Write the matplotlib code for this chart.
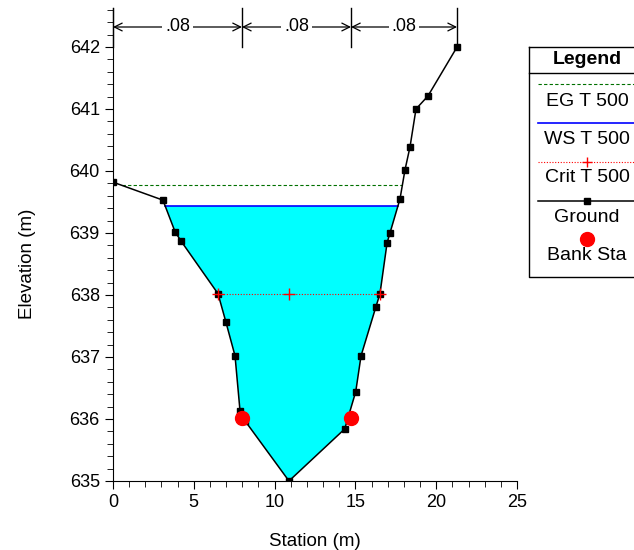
import matplotlib
matplotlib.use("Agg")
import matplotlib.pyplot as plt
import numpy as np

plt.rcParams['font.family'] = ['Liberation Sans', 'DejaVu Sans']

# Ground profile
ground_x = [0.0, 3.09, 3.84, 4.21, 6.50, 6.99, 7.55, 7.86, 8.17, 10.89,
            14.34, 15.02, 15.35, 16.27, 16.52, 16.96, 17.14, 17.76, 18.07,
            18.38, 18.75, 19.49, 21.29]
ground_y = [639.82, 639.53, 639.02, 638.87, 638.02, 637.56, 637.02, 636.13,
            635.97, 635.00, 635.84, 636.44, 637.02, 637.81, 638.02, 638.84,
            639.00, 639.55, 640.02, 640.39, 641.00, 641.21, 642.00]
bank_x = [7.98, 14.73]
bank_y = [636.01, 636.01]
ws_elev = 639.435
eg_elev = 639.77
crit_elev = 638.02
crit_x = [6.50, 10.9, 16.52]
n_breaks = [0.0, 7.98, 14.73, 21.29]
n_values = [".08", ".08", ".08"]
legend_labels = ["EG T 500", "WS T 500", "Crit T 500", "Ground", "Bank Sta"]

W, H = 634, 550
fig = plt.figure(figsize=(W / 100, H / 100), dpi=100)
ax = fig.add_axes([113 / W, 1 - 481 / H, (517 - 113) / W, (481 - 8) / H])
ax.set_xlim(0, 25)
ax.set_ylim(635, 635 + 473 / 62)

gx = np.array(ground_x)
gy = np.array(ground_y)

def crossings(level):
    xs = []
    for i in range(len(gx) - 1):
        y0, y1 = gy[i], gy[i + 1]
        if (y0 - level) * (y1 - level) < 0:
            xs.append(gx[i] + (level - y0) * (gx[i + 1] - gx[i]) / (y1 - y0))
    return xs

# water fill
wl, wr = crossings(ws_elev)[0], crossings(ws_elev)[-1]
mask = (gx > wl) & (gx < wr)
px = np.concatenate([[wl], gx[mask], [wr]])
py = np.concatenate([[ws_elev], gy[mask], [ws_elev]])
ax.fill(px, py, color='#00ffff', zorder=1, lw=0)
ax.plot([wl, wr], [ws_elev, ws_elev], color='#0000ff', lw=1.2, zorder=3)

el, er = crossings(eg_elev)[0], crossings(eg_elev)[-1]
ax.plot([el, er], [eg_elev, eg_elev], color='#007000', lw=0.8, ls=(0, (3, 2)), zorder=3)

ax.plot([crit_x[0], crit_x[-1]], [crit_elev, crit_elev], color='red', lw=0.8,
        ls=(0, (1, 1.5)), zorder=3)
ax.plot(crit_x, [crit_elev] * len(crit_x), ls='none', marker='+', color='red',
        ms=8, mew=1, zorder=6)

ax.plot(gx, gy, color='black', lw=1.1, marker='s', ms=5, mfc='black',
        mec='black', zorder=4)
ax.plot(bank_x, bank_y, ls='none', marker='o', ms=10, color='red', zorder=5)

# n-value dimension lines
ytxt = 635 + (481 - 27) / 62
ytop = 635 + (481 - 8) / 62
for b in n_breaks:
    ax.plot([b, b], [642.0, ytop], color='black', lw=1, clip_on=False, zorder=7)
for i, nv in enumerate(n_values):
    a, b = n_breaks[i], n_breaks[i + 1]
    ax.annotate('', xy=(a, ytxt), xytext=(b, ytxt),
                arrowprops=dict(arrowstyle='<->', color='black', lw=0.9,
                                shrinkA=0, shrinkB=0, mutation_scale=14),
                annotation_clip=False, zorder=7)
    ax.text((a + b) / 2, ytxt, nv, ha='center', va='center', fontsize=13,
            bbox=dict(facecolor='white', edgecolor='none', pad=2), zorder=8)

ax.spines['top'].set_visible(False)
ax.spines['right'].set_visible(False)
ax.set_xticks([0, 5, 10, 15, 20, 25])
ax.set_xticks(np.arange(0, 25.01, 1), minor=True)
ax.set_yticks(np.arange(635, 642.01, 1))
ax.set_yticklabels([str(v) for v in range(635, 643)])
ax.set_yticks(np.arange(635, 642.61, 0.2), minor=True)
ax.tick_params(axis='both', which='major', length=6, labelsize=13, direction='out')
ax.tick_params(axis='both', which='minor', length=4, direction='out')
ax.set_xlabel('Station (m)', fontsize=13.5)
ax.set_ylabel('Elevation (m)', fontsize=13.5)
ax.xaxis.set_label_coords(315 / W, 1 - 541 / H, transform=fig.transFigure)
ax.yaxis.set_label_coords(28 / W, 1 - 264 / H, transform=fig.transFigure)
ax.xaxis.label.set_va('center')
ax.yaxis.label.set_va('center')

# custom legend
lax = fig.add_axes([0, 0, 1, 1], facecolor='none')
lax.set_xlim(0, W)
lax.set_ylim(H, 0)
lax.axis('off')
lax.plot([529, 640, 640, 529, 529], [47, 47, 277, 277, 47], color='black', lw=1, clip_on=False)
lax.plot([529, 640], [73, 73], color='black', lw=1)
cx = 587
fs = 14
lax.text(cx, 59, 'Legend', ha='center', va='center', fontsize=fs, fontweight='bold')
lax.plot([538, 634], [84, 84], color='#007000', lw=0.8, ls=(0, (3, 2)))
lax.text(cx, 102, legend_labels[0], ha='center', va='center', fontsize=fs)
lax.plot([538, 634], [123, 123], color='#0000ff', lw=1.2)
lax.text(cx, 140, legend_labels[1], ha='center', va='center', fontsize=fs)
lax.plot([538, 634], [162, 162], color='red', lw=0.8, ls=(0, (1, 1.5)))
lax.plot([cx], [162], marker='+', color='red', ms=7, mew=1)
lax.text(cx, 178, legend_labels[2], ha='center', va='center', fontsize=fs)
lax.plot([538, 634], [201, 201], color='black', lw=1.1)
lax.plot([cx], [201], marker='s', color='black', ms=5)
lax.text(cx, 217, legend_labels[3], ha='center', va='center', fontsize=fs)
lax.plot([cx], [239], marker='o', color='red', ms=10)
lax.text(cx, 256, legend_labels[4], ha='center', va='center', fontsize=fs)

fig.savefig('out.png', dpi=100)
